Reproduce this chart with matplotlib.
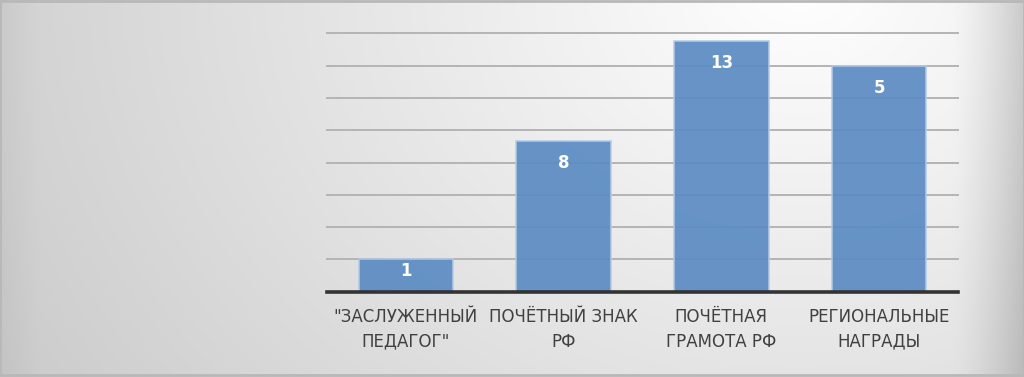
import numpy as np
import matplotlib.pyplot as plt

categories = ['"ЗАСЛУЖЕННЫЙ\nПЕДАГОГ"', 'ПОЧЁТНЫЙ ЗНАК\nРФ',
              'ПОЧЁТНАЯ\nГРАМОТА РФ', 'РЕГИОНАЛЬНЫЕ\nНАГРАДЫ']
heights = [1.0, 4.67, 7.77, 7.0]   # bar heights as drawn (grid units)
labels = ['1', '8', '13', '5']     # data labels as printed on the bars

W, H = 1024, 377
fig = plt.figure(figsize=(W / 100, H / 100), dpi=100)

# background panel with soft grey gradient
bg = fig.add_axes([0, 0, 1, 1])
xx, yy = np.meshgrid(np.arange(W), np.arange(H))
dist = np.hypot(xx - 800, (yy + 20) * 1.2)
v = 1 - 0.00022 * dist
v -= np.clip((xx - 950) / 74, 0, 1) ** 1.4 * 0.16
v -= np.clip((40 - xx) / 40, 0, 1) * 0.03
v = np.clip(v, 0.74, 1)
bg.imshow(np.dstack([v, v, v]), extent=[0, W, H, 0], aspect='auto')
bg.plot([0, W, W, 0, 0], [1, 1, H - 2, H - 2, 1], color='#b8b8b8', lw=2)
bg.set_xlim(0, W)
bg.set_ylim(H, 0)
bg.axis('off')

ax = fig.add_axes([327 / W, 1 - 291.7 / H, 631 / W, (291.7 - 33.3) / H])
ax.patch.set_alpha(0)
x = np.arange(len(categories))
ax.bar(x, heights, width=0.6, color='#5b8bc3', alpha=0.92,
       edgecolor='#b4cbe6', linewidth=1.2, zorder=3)
for xi, h, lab in zip(x, heights, labels):
    off = min(0.68, h * 0.35)
    ax.text(xi, h - off, lab, ha='center', va='center', color='white',
            fontsize=12, fontweight='bold', zorder=4)

ax.set_xlim(-0.5, 3.5)
ax.set_ylim(0, 8)
ax.set_yticks(np.arange(1, 9))
ax.yaxis.grid(True, color='#b4b4b4', lw=1.4, zorder=1)
for gl in ax.get_ygridlines():
    gl.set_clip_on(False)
ax.tick_params(axis='y', length=0, labelleft=False)
ax.tick_params(axis='x', length=0, pad=12)
ax.set_xticks(x)
ax.set_xticklabels(categories, fontsize=12, color='#404040',
                   linespacing=1.45)
for s in ('top', 'right', 'left'):
    ax.spines[s].set_visible(False)
ax.spines['bottom'].set_color('#333333')
ax.spines['bottom'].set_linewidth(2.6)
ax.spines['bottom'].set_zorder(5)

fig.savefig('out.png', dpi=100)
